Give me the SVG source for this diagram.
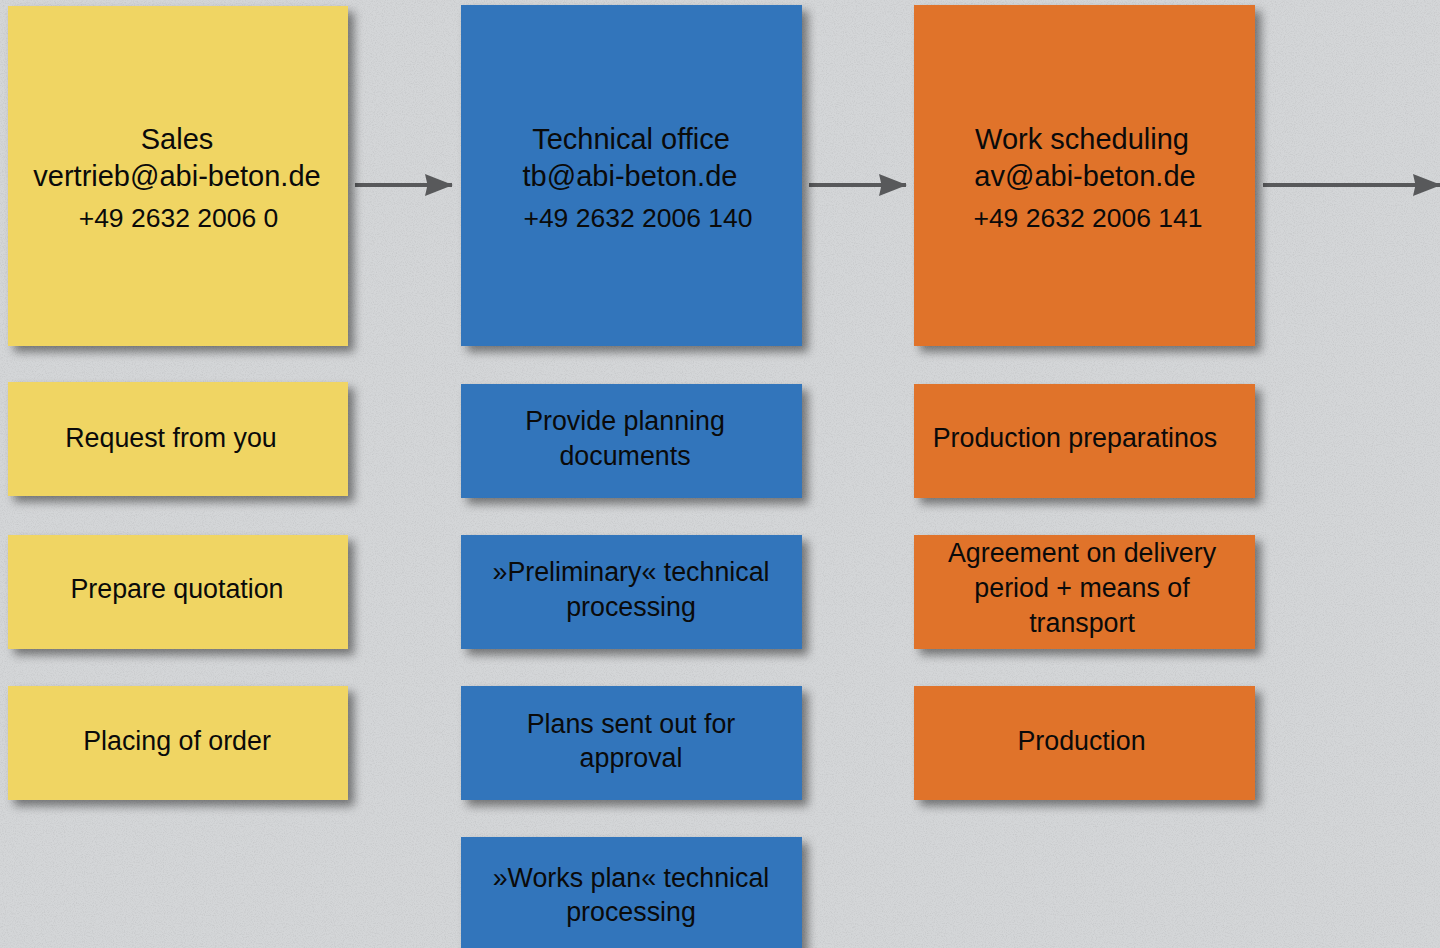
<svg xmlns="http://www.w3.org/2000/svg" width="1440" height="948" viewBox="0 0 1440 948">
<style>
.t{font-family:"Liberation Sans",Arial,sans-serif;fill:#0a0a0a;text-anchor:middle}
.h{font-size:29px}
.p{font-size:26.5px}
.b{font-size:26.8px}
.y{fill:#F0D563}
.bl{fill:#3274BB}
.o{fill:#E0732C}
.c{stroke:#58595B;stroke-width:4;fill:none}
</style>
<defs>
<filter id="sh" x="-10%" y="-10%" width="130%" height="130%">
<feDropShadow dx="6" dy="6" stdDeviation="5" flood-color="#000" flood-opacity="0.45"/>
</filter>
<filter id="noise" x="0" y="0" width="100%" height="100%">
<feTurbulence type="fractalNoise" baseFrequency="0.9" numOctaves="2" seed="3"/>
<feColorMatrix type="matrix" values="0 0 0 0 0.35  0 0 0 0 0.36  0 0 0 0 0.37  0 0 0 -1.6 0.9"/>
</filter>
<marker id="ah" viewBox="0 0 28 22" refX="27" refY="11" markerWidth="28" markerHeight="22" markerUnits="userSpaceOnUse" orient="auto">
<path d="M0,0 L28,11 L0,22 L2.5,11 Z" fill="#58595B"/>
</marker>
</defs>
<rect width="1440" height="948" fill="#D4D6D8"/>
<rect width="1440" height="948" filter="url(#noise)" opacity="0.35"/>
<g id="connectors">
<line class="c" x1="355" y1="185" x2="452" y2="185" marker-end="url(#ah)"/>
<line class="c" x1="809" y1="185" x2="906" y2="185" marker-end="url(#ah)"/>
<line class="c" x1="1263" y1="185" x2="1440" y2="185" marker-end="url(#ah)"/>
</g>
<g id="sales">
<rect class="y" x="8" y="6" width="340" height="340" filter="url(#sh)"/>
<text class="t h" x="177" y="149">Sales</text>
<text class="t h" x="177" y="186">vertrieb@abi-beton.de</text>
<text class="t p" x="178.5" y="227">+49 2632 2006 0</text>
</g>
<g id="tech">
<rect class="bl" x="461" y="5" width="341" height="341" filter="url(#sh)"/>
<text class="t h" x="631" y="149">Technical office</text>
<text class="t h" x="630" y="186">tb@abi-beton.de</text>
<text class="t p" x="638" y="227">+49 2632 2006 140</text>
</g>
<g id="work">
<rect class="o" x="914" y="5" width="341" height="341" filter="url(#sh)"/>
<text class="t h" x="1082" y="149">Work scheduling</text>
<text class="t h" x="1085" y="186">av@abi-beton.de</text>
<text class="t p" x="1088" y="227">+49 2632 2006 141</text>
</g>
<g id="request">
<rect class="y" x="8" y="382" width="340" height="114" filter="url(#sh)"/>
<text class="t b" x="171" y="447">Request from you</text>
</g>
<g id="quotation">
<rect class="y" x="8" y="535" width="340" height="114" filter="url(#sh)"/>
<text class="t b" x="177" y="598">Prepare quotation</text>
</g>
<g id="order">
<rect class="y" x="8" y="686" width="340" height="114" filter="url(#sh)"/>
<text class="t b" x="177" y="750">Placing of order</text>
</g>
<g id="planning">
<rect class="bl" x="461" y="384" width="341" height="114" filter="url(#sh)"/>
<text class="t b" x="625" y="430">Provide planning</text>
<text class="t b" x="625" y="465">documents</text>
</g>
<g id="preliminary">
<rect class="bl" x="461" y="535" width="341" height="114" filter="url(#sh)"/>
<text class="t b" x="631" y="581">»Preliminary« technical</text>
<text class="t b" x="631" y="616">processing</text>
</g>
<g id="approval">
<rect class="bl" x="461" y="686" width="341" height="114" filter="url(#sh)"/>
<text class="t b" x="631" y="733">Plans sent out for</text>
<text class="t b" x="631" y="767">approval</text>
</g>
<g id="worksplan">
<rect class="bl" x="461" y="837" width="341" height="130" filter="url(#sh)"/>
<text class="t b" x="631" y="887">»Works plan« technical</text>
<text class="t b" x="631" y="921">processing</text>
</g>
<g id="prep">
<rect class="o" x="914" y="384" width="341" height="114" filter="url(#sh)"/>
<text class="t b" x="1075" y="447">Production preparatinos</text>
</g>
<g id="agreement">
<rect class="o" x="914" y="535" width="341" height="114" filter="url(#sh)"/>
<text class="t b" x="1082" y="562">Agreement on delivery</text>
<text class="t b" x="1082" y="597">period + means of</text>
<text class="t b" x="1082" y="632">transport</text>
</g>
<g id="production">
<rect class="o" x="914" y="686" width="341" height="114" filter="url(#sh)"/>
<text class="t b" x="1081.5" y="750">Production</text>
</g>
</svg>
